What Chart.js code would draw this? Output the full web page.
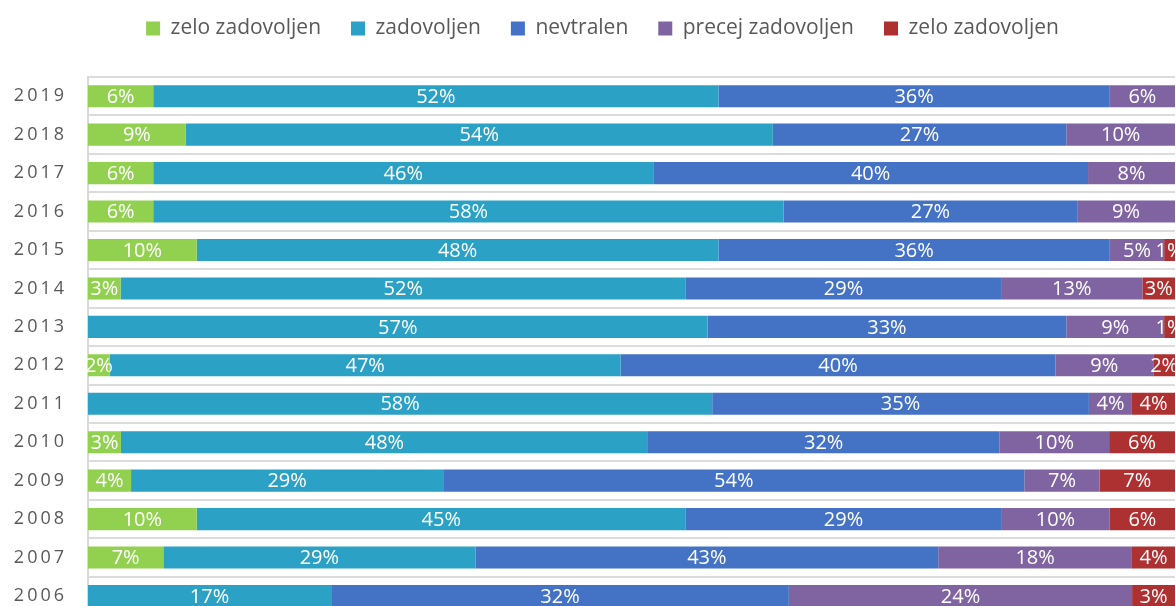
<!DOCTYPE html>
<html>
<head>
<meta charset="utf-8">
<script src="https://cdn.jsdelivr.net/npm/chart.js@4/dist/chart.umd.min.js"></script>
<style>
  html, body { margin: 0; padding: 0; background: #ffffff; overflow: hidden; }
  #wrap { width: 1176px; height: 606px; overflow: hidden; }
  canvas { display: block; }
</style>
</head>
<body>
<div id="wrap"><canvas id="c" width="1176" height="650"></canvas></div>
<script>
// Categories (top to bottom)
const years = ['2019','2018','2017','2016','2015','2014','2013','2012','2011','2010','2009','2008','2007','2006'];

// Series values (percent, as labelled)
const zeloZadovoljen   = [6, 9, 6, 6, 10, 3, 0, 2, 0, 3, 4, 10, 7, 0];
const zadovoljen       = [52, 54, 46, 58, 48, 52, 57, 47, 58, 48, 29, 45, 29, 17];
const nevtralen        = [36, 27, 40, 27, 36, 29, 33, 40, 35, 32, 54, 29, 43, 32];
const precejZadovoljen = [6, 10, 8, 9, 5, 13, 9, 9, 4, 10, 7, 10, 18, 24];
const zeloZadovoljen2  = [0, 0, 0, 0, 1, 3, 1, 2, 4, 6, 7, 6, 4, 3];

const seriesNames = ['zelo zadovoljen', 'zadovoljen', 'nevtralen', 'precej zadovoljen', 'zelo zadovoljen'];
const seriesColors = ['#92D050', '#2BA1C6', '#4472C4', '#8064A2', '#AE3131'];
const seriesValues = [zeloZadovoljen, zadovoljen, nevtralen, precejZadovoljen, zeloZadovoljen2];

// 100% stacked: each row is scaled to its own total
const rowTotals = years.map((_, i) => seriesValues.reduce((s, arr) => s + arr[i], 0));

const datasets = seriesValues.map((vals, k) => ({
  label: seriesNames[k],
  data: vals.map((v, i) => v / rowTotals[i] * 100),
  rawValues: vals,
  backgroundColor: seriesColors[k],
  borderWidth: 0,
  barPercentage: 1,
  categoryPercentage: 0.575
}));

const FONT = '"Open Sans", "DejaVu Sans", sans-serif';

const labelPlugin = {
  id: 'segLabels',
  afterLayout(chart) {
    // nudge legend to match reference centring
    if (chart.legend) { chart.legend.left += 15; chart.legend.right += 15; }
  },
  afterDatasetsDraw(chart) {
    const ctx = chart.ctx;
    ctx.save();
    ctx.fillStyle = '#ffffff';
    ctx.font = '20px ' + FONT;
    ctx.textAlign = 'center';
    ctx.textBaseline = 'middle';
    chart.data.datasets.forEach((ds, di) => {
      const meta = chart.getDatasetMeta(di);
      meta.data.forEach((el, i) => {
        const v = ds.rawValues[i];
        if (!v) return;
        const x = (el.x + el.base) / 2;
        ctx.fillText(v + '%', x, el.y + 1);
      });
    });
    ctx.restore();
  }
};

new Chart(document.getElementById('c'), {
  type: 'bar',
  data: { labels: years, datasets },
  plugins: [labelPlugin],
  options: {
    indexAxis: 'y',
    responsive: false,
    animation: false,
    layout: { padding: { top: -12, left: 0, right: 1, bottom: 25 } },
    plugins: {
      legend: {
        position: 'top',
        labels: {
          boxWidth: 14,
          boxHeight: 14,
          padding: 30,
          color: '#595959',
          font: { family: FONT, size: 21 }
        }
      },
      tooltip: { enabled: false }
    },
    scales: {
      x: {
        type: 'linear',
        position: 'top',
        stacked: true,
        min: 0,
        max: 100,
        ticks: { display: false },
        grid: { display: false },
        border: { display: false },
        afterFit(s) { s.height = 28; }
      },
      y: {
        stacked: true,
        ticks: {
          color: '#595959',
          font: { family: FONT, size: 18 },
          padding: 24,
          callback(value) { return this.getLabelForValue(value).split('').join('\u2009'); }
        },
        grid: { color: '#dcdcdc', lineWidth: 2, drawTicks: false, offset: true },
        border: { display: true, color: '#d9d9d9', width: 2 },
        afterFit(s) { s.width = 88; }
      }
    }
  }
});
</script>
</body>
</html>
